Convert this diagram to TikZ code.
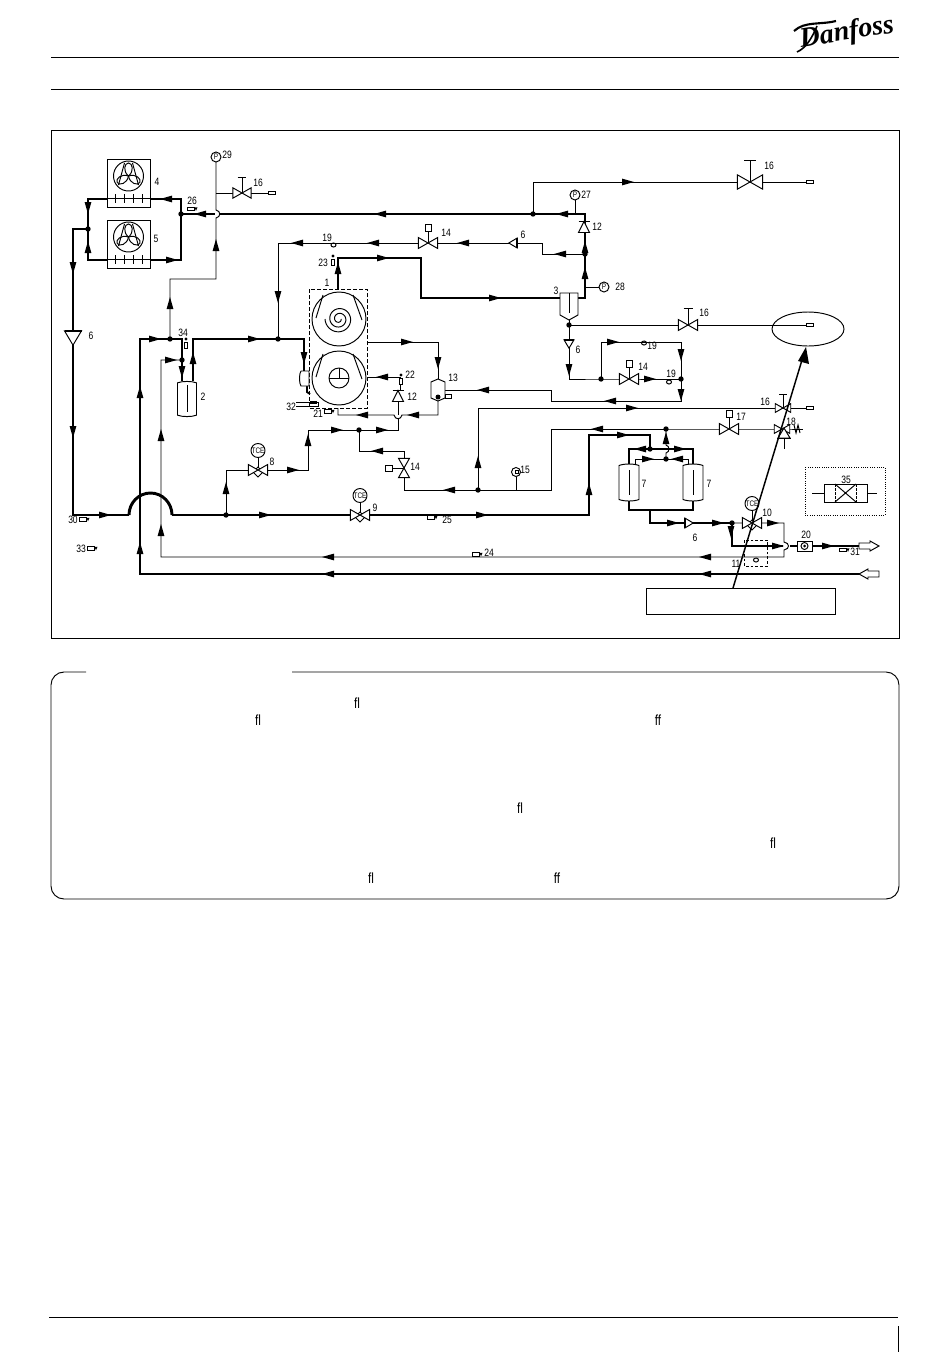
\documentclass[tikz,border=0pt]{standalone}
\usepackage{fontspec}
\newfontfamily\tagfont[FakeStretch=0.8]{Liberation Sans}
\newfontfamily\logofont{Liberation Serif}
\tikzset{
    pipe/.style = {line width=2.2pt},
    thinpipe/.style = {line width=0.72pt},
    tag/.style = {font=\tagfont\fontsize{8}{8}\selectfont, inner sep=0pt},
    lig/.style = {font=\tagfont\fontsize{11}{12}\selectfont, inner sep=0pt},
    flowtip/.pic = {\fill (-6,-3.4) -- (6,0) -- (-6,3.4) -- cycle;},
    valve/.pic = {\draw[thinpipe, fill=white] (-9.7,-5.5) -- (9.7,5.5) -- (9.7,-5.5) -- (-9.7,5.5) -- cycle;},
    valvet/.pic = {
        \draw[thinpipe] (0,0) -- (0,-16.5) (-4.5,-16.5) -- (4.5,-16.5);
        \draw[thinpipe, fill=white] (-9.7,-5.5) -- (9.7,5.5) -- (9.7,-5.5) -- (-9.7,5.5) -- cycle;},
    valvesol/.pic = {
        \draw[thinpipe] (0,0) -- (0,-12);
        \draw[thinpipe, fill=white] (-3,-19) rectangle (3,-12);
        \draw[thinpipe, fill=white] (-9.7,-5.5) -- (9.7,5.5) -- (9.7,-5.5) -- (-9.7,5.5) -- cycle;},
    valvetce/.pic = {
        \draw[thinpipe] (0,0) -- (0,-13);
        \draw[thinpipe, fill=white] (0,7) -- (5,2) -- (0,-3) -- (-5,2) -- cycle;
        \draw[thinpipe, fill=white] (-9.7,-5.5) -- (9.7,5.5) -- (9.7,-5.5) -- (-9.7,5.5) -- cycle;
        \draw[thinpipe, fill=white] (0,-19.5) circle (7);
        \node[tag, font=\tagfont\fontsize{6}{6}\selectfont] (-t) at (0,-19.5) {TCE};},
    checkv/.pic = {
        \draw[thinpipe, fill=white] (-4.2,-5) -- (4.2,0) -- (-4.2,5) -- cycle;
        \draw[line width=1.5pt] (-4.2,-5) -- (-4.2,5);},
    seatv/.pic = {
        \draw[thinpipe, fill=white] (-5.5,-5.5) -- (5.5,0) -- (-5.5,5.5) -- cycle;
        \draw[thinpipe] (5.5,-5.5) -- (5.5,5.5);},
    gauge/.pic = {
        \draw[thinpipe, fill=white] (0,0) circle (5);
        \node[tag, font=\tagfont\fontsize{6}{6}\selectfont] (-p) at (0,0) {P};},
    fanunit/.pic = {
        \draw[thinpipe, fill=white] (-21.5,-17) rectangle (21.5,31);
        \draw[thinpipe] (-21.5,22) -- (21.5,22);
        \foreach \t in {-13.5,-4.5,4.5,13.5} {\draw[thinpipe] (\t,18) -- (\t,27);}
        \draw[thinpipe] (0,0) circle (15);
        \draw[thinpipe] (-10,9) -- (-4,-13) (10,9) -- (4,-13);
        \foreach \a in {0,120,240} {
            \draw[thinpipe, rotate=\a] (0,0) .. controls (-6,-5) and (-4,-13) .. (0,-13) .. controls (4,-13) and (6,-5) .. (0,0);}
    },
    compbody/.pic = {
        \draw[thinpipe, fill=white] (0,0) circle (27);
        \draw[thinpipe] (-16,-24) -- (-23,-1) (14,-24) -- (23,1);
    },
    sensorh/.pic = {
        \draw[thinpipe] (0,-1.6) rectangle (7.5,1.6);
        \fill (7.5,-1.6) -- (10.5,-1.6) -- (9,1.8) -- cycle;
    },
    sensorv/.pic = {
        \draw[thinpipe] (-1.8,0) rectangle (1.8,6);
        \fill (0,-3) circle (1.6);
    },
    endcap/.pic = {\draw[thinpipe, fill=white] (-3.5,-1.6) rectangle (3.5,1.6);},
    vessel/.pic = {
        \draw[thinpipe, fill=white] (-10,-17) .. controls (-5,-19) and (5,-19) .. (10,-17) -- (10,17) .. controls (5,19) and (-5,19) .. (-10,17) -- cycle;
    },
    hollowtip/.pic = {\draw[thinpipe, fill=white] (-10,-3) -- (1,-3) -- (1,-5) -- (10,0) -- (1,5) -- (1,3) -- (-10,3) -- cycle;},
}
\begin{document}
\begin{tikzpicture}[x=0.75pt, y=-0.75pt]
    \useasboundingbox (0,0) rectangle (950,1360);

    % page furniture
    \draw[thinpipe] (51,57) -- (899,57);
    \draw[thinpipe] (51,89) -- (899,89);
    \draw[thinpipe] (49,1317) -- (898,1317);
    \draw[thinpipe] (898,1326) -- (898,1352);
    \draw[thinpipe] (51,130) rectangle (899,638);
    \node[font=\logofont\bfseries\itshape\fontsize{21}{21}\selectfont, inner sep=0pt, rotate=9] (logo) at (847,33) {Danfoss};
    \draw[line width=1.6pt] (794,31) .. controls (805,21) and (820,25) .. (836,21);
    \draw[line width=1.2pt] (797,52) .. controls (806,48) and (812,38) .. (817,26);

    % notes panel
    \draw[thinpipe] (86,672) -- (64,672) arc (270:180:13) -- (51,886) arc (180:90:13) -- (886,899) arc (90:0:13) -- (899,685) arc (0:-90:13) -- (292,672);
    \node[lig] (fla) at (357,703) {fl};
    \node[lig] (flb) at (258,720) {fl};
    \node[lig] (ffa) at (658,720) {ff};
    \node[lig] (flc) at (520,808) {fl};
    \node[lig] (fld) at (773,843) {fl};
    \node[lig] (fle) at (371,878) {fl};
    \node[lig] (ffb) at (557,878) {ff};

    % junctions
    \coordinate (fanFour) at (88,199);
    \coordinate (fanFourR) at (181,199);
    \coordinate (fanFive) at (88,260);
    \coordinate (fanFiveR) at (181,260);
    \coordinate (jFanIn) at (181,214);
    \coordinate (jFanOut) at (88,229);
    \coordinate (jHot) at (533,214);
    \coordinate (topRise) at (585,214);
    \coordinate (jBleed) at (585,254);
    \coordinate (sepOut) at (585,298);
    \coordinate (sepIn) at (560,298);
    \coordinate (compOut) at (338,290);
    \coordinate (jBoost) at (170,339);
    \coordinate (jSuct) at (278,339);
    \coordinate (recvA) at (182,381);
    \coordinate (recvB) at (193,381);
    \coordinate (compIn) at (304,371);
    \coordinate (jTie) at (182,360);
    \coordinate (jLiq) at (226,515);
    \coordinate (arcL) at (129,515);
    \coordinate (arcR) at (172,515);
    \coordinate (dryTop) at (650,449);
    \coordinate (dryBot) at (650,510);
    \coordinate (jDry) at (666,429);
    \coordinate (jDryB) at (666,459);
    \coordinate (jOut) at (732,523);
    \coordinate (jSep) at (569,325);
    \coordinate (jHgA) at (601,379);
    \coordinate (jHgB) at (681,379);
    \coordinate (jMid) at (478,490);
    \coordinate (jEco) at (359,430);
    \coordinate (gaugeTop) at (216,157);
    \coordinate (oilEnd) at (810,325);
    \coordinate (topEnd) at (810,182);
    \coordinate (midEnd) at (810,408);
    \coordinate (vesselIn) at (438,380);
    \coordinate (vesselOut) at (445,390);

    % main lines
    \draw[pipe] (fanFour) -- (fanFourR) -- (fanFiveR) -- (fanFive) -- cycle;
    \draw[pipe] (jFanIn) -- (215,214);
    \draw[pipe] (220,214) -- (topRise) -- (sepOut) -- (sepIn);
    \draw[pipe] (sepIn) -- (421,298) -- (421,258) -- (338,258) -- (compOut);
    \draw[pipe] (jFanOut) -- (73,229) -- (73,515) -- (arcL);
    \draw[pipe] (arcL) .. controls (129,503) and (138.5,493) .. (150.5,493) .. controls (162.5,493) and (172,503) .. (arcR);
    \draw[pipe] (arcR) -- (589,515) -- (589,435) -- (650,435) -- (dryTop);
    \draw[pipe] (629,470) -- (629,449) -- (693,449) -- (693,470);
    \draw[pipe] (629,501) -- (629,510) -- (693,510) -- (693,501);
    \draw[pipe] (dryBot) -- (650,523) -- (jOut) -- (732,546) -- (783,546);
    \draw[pipe] (790,546) -- (860,546);
    \draw[pipe] (860,574) -- (140,574) -- (140,339) -- (182,339) -- (recvA);
    \draw[pipe] (recvB) -- (193,339) -- (304,339) -- (compIn);
    \draw[line width=1.4pt] (307,386) -- (307,392) -- (310,394);

    % thin lines
    \draw[thinpipe] (jBoost) -- (170,279) -- (216,279) -- (216,218) .. controls (221,217) and (221,211) .. (216,210) -- (gaugeTop);
    \draw[thinpipe] (216,193) -- (272,193);
    \draw[thinpipe] (jSuct) -- (278,243) -- (542,243) -- (542,254) -- (jBleed);
    \draw[thinpipe] (jHot) -- (533,182) -- (topEnd);
    \draw[thinpipe] (575,195) -- (575,214);
    \draw[thinpipe] (585,287) -- (604,287);
    \draw[thinpipe] (569,319) -- (569,379) -- (jHgA) -- (jHgB);
    \draw[thinpipe] (jSep) -- (oilEnd);
    \draw[thinpipe] (jHgA) -- (601,342) -- (681,342) -- (681,401) -- (551,401) -- (551,390) -- (vesselOut);
    \draw[thinpipe] (367,342) -- (438,342) -- (vesselIn);
    \draw[thinpipe] (367,377) -- (401,377);
    \draw[thinpipe] (400,384) -- (400,390);
    \draw[thinpipe] (338,408) -- (338,415) -- (394,415) .. controls (395,420) and (401,420) .. (402,415) -- (438,415) -- (438,400);
    \draw[thinpipe] (398,396) -- (398,415) (398,419) -- (398,430) -- (jEco);
    \draw[thinpipe] (jEco) -- (308,430) -- (308,470) -- (226,470) -- (jLiq);
    \draw[thinpipe] (jEco) -- (359,451) -- (404,451) -- (404,490) -- (551,490) -- (551,429) -- (782,429) -- (803,429);
    \draw[thinpipe] (jMid) -- (478,408) -- (midEnd);
    \draw[thinpipe] (516,477) -- (516,490);
    \draw[thinpipe] (jDry) -- (666,445) .. controls (670,446) and (670,452) .. (666,453) -- (jDryB);
    \draw[thinpipe] (635,470) -- (635,459) -- (688,459) -- (688,470);
    \draw[thinpipe] (jOut) -- (784,523) -- (784,542) .. controls (790,543) and (790,549) .. (784,550) -- (784,557) -- (161,557) -- (161,360) -- (jTie);

    % junction dots
    \foreach \p in {jFanIn,jFanOut,jHot,jBleed,jBoost,jSuct,jTie,jLiq,jDry,jDryB,jOut,jSep,jHgA,jHgB,jMid,jEco,dryTop} {
        \fill (\p) circle (2.7);
    }

    % flow arrows
    \foreach \x/\y/\a in {166/199/180, 88/208/270, 88/247/90, 172/260/0, 200/214/180, 73/268/270, 73/432/270,
        105/515/0, 265/515/0, 482/515/0, 589/489/90, 155/339/0, 140/392/90, 140/548/90, 193/358/90, 254/339/0,
        304/358/270, 182/372/270, 170/303/90, 216/245/90, 171/360/0, 161/435/90, 161/530/90, 328/557/180, 328/574/180,
        278/297/270, 297/243/180, 373/243/180, 463/243/180, 560/254/180, 338/268/90, 383/258/0, 495/298/0,
        585/273/90, 585/247/90, 562/214/180, 380/214/180, 628/182/0, 569/370/270, 613/342/0, 650/379/0, 681/355/270,
        681/395/270, 610/401/180, 632/408/0, 407/342/0, 438/363/270, 382/377/180, 483/390/180, 362/415/180, 413/415/180,
        337/430/0, 382/430/0, 308/440/90, 293/470/0, 226/488/90, 377/451/180, 449/490/180, 478/462/90, 597/429/180,
        623/435/0, 666/438/90, 640/449/180, 680/449/0, 648/459/0, 677/459/180, 673/523/0, 718/523/0, 731/532/270,
        773/523/0, 778/546/0, 828/546/0, 705/557/180, 705/574/180} {
        \pic[rotate=\a] at (\x,\y) {flowtip};
    }

    % fans and compressor
    \pic at (128.5,176) {fanunit};
    \pic at (128.5,237) {fanunit};
    \pic at (339,319) {compbody};
    \pic at (339,378) {compbody};
    \draw[thinpipe] plot[domain=0:900, samples=90, smooth] ({339+(2+\x/900*12)*cos(\x)}, {319+(2+\x/900*12)*sin(\x)});
    \draw[thinpipe] (339,378) circle (10);
    \draw[thinpipe] (339,368) -- (339,378) (329,378) -- (349,378);
    \draw[thinpipe, dash pattern=on 3pt off 1.5pt] (309,289) rectangle (367,408);
    \draw[thinpipe, fill=white] (301,371) -- (309,371) -- (309,386) -- (301,386) .. controls (299,384) and (299,373) .. (301,371);
    \draw[thinpipe] (296,402) -- (318,402) (296,406) -- (318,406) -- (318,402);
    \fill (310,401) rectangle (317,404);

    % vessels
    \pic[scale=0.95] at (187,399) {vessel};
    \draw[thinpipe] (187,385) -- (187,412);
    \pic[scale=1] at (629,482.5) {vessel};
    \pic[scale=1] at (693,482.5) {vessel};
    \draw[thinpipe] (629,470) -- (629,495) (693,470) -- (693,495);
    \draw[thinpipe, fill=white] (431,382) -- (438,379) -- (445,382) -- (445,398) -- (438,401) -- (431,398) -- cycle;
    \fill (438,397) circle (2.5);
    \draw[thinpipe, fill=white] (445,394) rectangle (451,398);

    % separator
    \draw[thinpipe, fill=white] (560,293) -- (578,293) -- (578,315) -- (569,320) -- (560,315) -- cycle;
    \draw[thinpipe] (569,293) -- (569,313);

    % valves
    \pic[scale=0.95] at (242,193) {valvet};
    \pic[scale=1.3] at (750,182) {valvet};
    \pic at (688,325) {valvet};
    \pic[scale=0.8] at (783,408) {valvet};
    \pic at (428,243) {valvesol};
    \pic at (629,379) {valvesol};
    \pic[rotate=90] at (404,468) {valvesol};
    \pic at (729,429) {valvesol};
    \pic at (258,470) {valvetce};
    \pic at (360,515) {valvetce};
    \pic at (752,523) {valvetce};
    \pic[scale=0.8] at (782,429) {valve};
    \draw[thinpipe] (784,438) -- (784,449);
    \draw[thinpipe, fill=white] (778,438) -- (784,428) -- (790,438) -- cycle;
    \draw[line width=1.2pt] (777,438.5) -- (791,438.5);
    \draw[thinpipe] (794,425) -- (796,433) -- (798,425) -- (800,433);

    % checks
    \pic[rotate=270, scale=1.7] at (73,338) {checkv};
    \pic[rotate=180] at (513,243) {checkv};
    \pic[rotate=270] at (569,344) {checkv};
    \pic at (689,523) {checkv};
    \pic[rotate=90] at (584,227) {seatv};
    \pic[rotate=90] at (398,396) {seatv};

    % gauges
    \pic at (gaugeTop) {gauge};
    \pic at (575,195) {gauge};
    \pic at (604,287) {gauge};
    \draw[thinpipe, fill=white] (516,472) circle (4.5);
    \draw[thinpipe] (515,470) rectangle (518,473);

    % sight glasses
    \draw[thinpipe] (333.5,245) ellipse (2.5 and 2);
    \draw[thinpipe] (644,343) ellipse (2.5 and 2);
    \draw[thinpipe] (669,382) ellipse (2.5 and 2);

    % sensors and plugs
    \pic at (187,209) {sensorh};
    \pic at (79,519.5) {sensorh};
    \pic at (87,548.5) {sensorh};
    \pic at (324,411.5) {sensorh};
    \pic at (427,517.5) {sensorh};
    \pic at (472,554.5) {sensorh};
    \pic at (839,550) {sensorh};
    \pic at (333,259) {sensorv};
    \pic at (401,378) {sensorv};
    \pic at (186,342) {sensorv};
    \pic at (272,193) {endcap};
    \pic at (oilEnd) {endcap};
    \pic at (topEnd) {endcap};
    \pic at (midEnd) {endcap};

    % outlet, inlet, filter box
    \draw[thinpipe, fill=white] (797,541) rectangle (812,551);
    \draw[thinpipe] (804.5,546) circle (3.5);
    \fill (804.5,546) circle (1.5);
    \pic at (869,546) {hollowtip};
    \pic[rotate=180] at (869,574) {hollowtip};
    \draw[thinpipe, dash pattern=on 2pt off 1.5pt] (744,540) rectangle (767,566);
    \draw[thinpipe] (756,560) ellipse (2.5 and 2);

    % receiver mark and legend
    \draw[thinpipe] (808,329) ellipse (36 and 17);
    \draw[thinpipe, densely dotted] (805,467) rectangle (885,515);
    \draw[thinpipe] (812,493) -- (824,493) (867,493) -- (877,493);
    \draw[thinpipe] (824,484) rectangle (867,502);
    \draw[thinpipe, dash pattern=on 2pt off 1pt] (835,484) -- (835,502) (856,484) -- (856,502);
    \draw[thinpipe] (835,484) -- (856,502) (835,502) -- (856,484);

    % callout
    \node[draw, thinpipe, minimum width=141.75pt, minimum height=19.5pt, inner sep=0pt] (callout) at (740.5,601) {};
    \coordinate (calloutTop) at (733,588);
    \draw[line width=1.1pt] (calloutTop) -- (802,360);
    \fill (806,347) -- (809,364) -- (798,361) -- cycle;

    % labels
    \foreach \x/\y/\t [count=\n] in {157/182/4, 156/239/5, 227/155/29, 258/183/16, 192/201/26, 91/336/6, 327/238/19,
        323/263/23, 327/283/1, 446/233/14, 523/235/6, 597/227/12, 586/195/27, 556/291/3, 620/287/28, 704/313/16,
        578/350/6, 652/346/19, 643/367/14, 671/374/19, 769/166/16, 453/378/13, 412/397/12, 410/375/22, 203/397/2,
        291/407/32, 318/414/21, 272/462/8, 375/508/9, 525/470/15, 415/467/14, 741/417/17, 765/402/16, 791/422/18,
        644/484/7, 709/484/7, 695/538/6, 767/513/10, 806/535/20, 736/564/11, 846/480/35, 73/520/30, 81/549/33,
        447/520/25, 489/553/24, 855/552/31, 183/333/34} {
        \node[tag] (lbl\n) at (\x,\y) {\t};
    }
\end{tikzpicture}
\end{document}
